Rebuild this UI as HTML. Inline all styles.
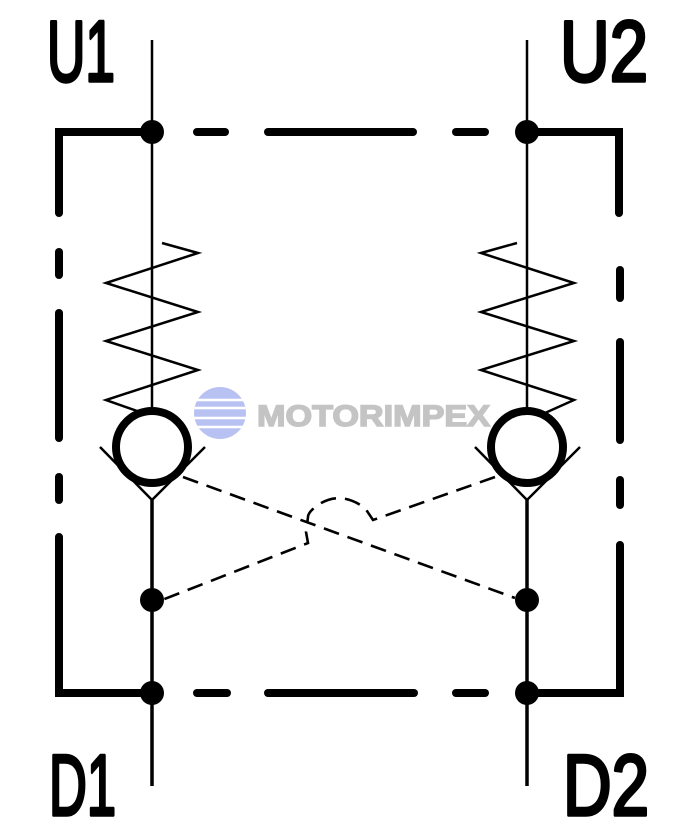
<!DOCTYPE html>
<html><head><meta charset="utf-8"><style>html,body{margin:0;padding:0;background:#fff}svg{display:block}</style></head>
<body>
<svg width="685" height="830" viewBox="0 0 685 830" xmlns="http://www.w3.org/2000/svg">
<g font-family="Liberation Sans, sans-serif" font-size="86" fill="#000" stroke="#000" stroke-width="3.5" stroke-linejoin="round">
<text x="47" y="81" textLength="68" lengthAdjust="spacingAndGlyphs">U1</text>
<text x="560" y="81" textLength="88" lengthAdjust="spacingAndGlyphs">U2</text>
<text x="49" y="815" textLength="67" lengthAdjust="spacingAndGlyphs">D1</text>
<text x="563" y="815" textLength="86" lengthAdjust="spacingAndGlyphs">D2</text>
</g>
<g stroke="#000" stroke-width="2.5" fill="none">
<line x1="152" y1="40" x2="152" y2="412"/>
<line x1="527" y1="40" x2="527" y2="412"/>
</g>
<g stroke="#000" stroke-width="3.5" fill="none">
<line x1="152" y1="500" x2="152" y2="786"/>
<line x1="527" y1="500" x2="527" y2="786"/>
</g>
<g stroke="#000" stroke-width="8" stroke-linecap="round" fill="none">
<polyline points="152,132 59,132 59,213"/>
<line x1="59" y1="252" x2="59" y2="275"/>
<line x1="59" y1="313" x2="59" y2="438"/>
<line x1="59" y1="477" x2="59" y2="500"/>
<polyline points="59,537 59,693 152,693"/>
<polyline points="527,132 619,132 619,213"/>
<line x1="620" y1="270" x2="620" y2="298"/>
<line x1="620" y1="342" x2="620" y2="440"/>
<line x1="620" y1="480" x2="620" y2="505"/>
<polyline points="620,545 620,693 527,693"/>
<line x1="197" y1="132" x2="225" y2="132"/>
<line x1="268" y1="132" x2="413" y2="132"/>
<line x1="456" y1="132" x2="485" y2="132"/>
<line x1="197" y1="693" x2="227" y2="693"/>
<line x1="268" y1="693" x2="414" y2="693"/>
<line x1="456" y1="693" x2="485" y2="693"/>
</g>
<g fill="#000">
<circle cx="152" cy="132" r="12"/><circle cx="527" cy="132" r="12"/>
<circle cx="152" cy="693" r="12"/><circle cx="527" cy="693" r="12"/>
<circle cx="152" cy="600" r="12"/><circle cx="527" cy="600" r="12"/>
</g>
<g stroke="#000" stroke-width="2.5" fill="none">
<polyline points="162,243 198,253 106,283 198,312 106,341 198,370 106,400 140,412"/>
<polyline points="517,243 481,253 574,283 481,312 574,341 481,370 574,400 545,413"/>
<polyline points="100,447 152,500 205,447"/>
<polyline points="475,447 527,500 580,447"/>
</g>
<g stroke="#000" stroke-width="8" fill="#fff">
<circle cx="152" cy="447" r="36"/>
<circle cx="527" cy="447" r="36"/>
</g>
<g stroke="#000" stroke-width="2.6" fill="none" stroke-dasharray="16,9">
<line x1="183" y1="477" x2="515" y2="598"/>
<path d="M495,477 L373,520 L365,508 Q340,490 318,505 Q308,512 308,517 L306,532 L308,543 L162,600"/>
</g>
<g>
<circle cx="220" cy="413" r="26" fill="#b8c2f2"/>
<g stroke="#fff" stroke-width="2.5">
<line x1="194" y1="400" x2="246" y2="400"/><line x1="194" y1="408" x2="246" y2="408"/>
<line x1="194" y1="418" x2="246" y2="418"/><line x1="194" y1="427" x2="246" y2="427"/>
</g>
<text x="257" y="426" font-family="Liberation Sans, sans-serif" font-weight="bold" font-size="30" fill="#c4c4c4" stroke="#c4c4c4" stroke-width="1.5" textLength="233" lengthAdjust="spacingAndGlyphs">MOTORIMPEX</text>
</g>
</svg>
</body></html>
